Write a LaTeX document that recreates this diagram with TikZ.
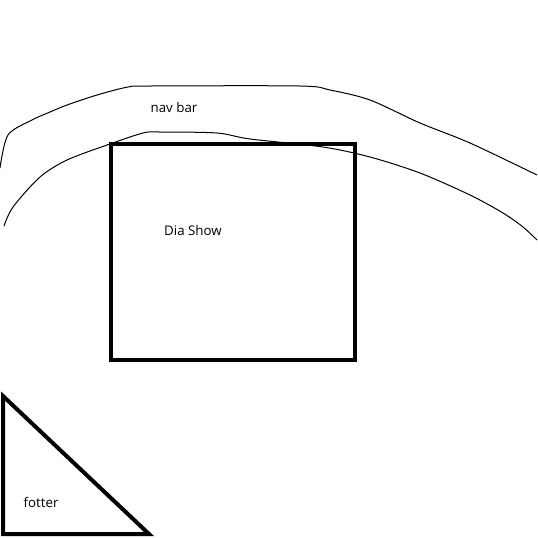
\documentclass[tikz,border=0pt]{standalone}
\usepackage{fontspec}
\setmainfont{Open Sans}
\begin{document}
\begin{tikzpicture}[x=0.75pt, y=-0.75pt, font=\fontsize{10pt}{12pt}\selectfont,
    sketch/.style={draw=black, line width=0.75pt, line join=round},
    bold box/.style={draw=black, line width=3pt}]

        \useasboundingbox (0,0) rectangle (538,537);

        % Nav Bar (two hand drawn curves)
        \draw[sketch] plot[smooth, tension=0.5] coordinates {(0,168) (8,135) (32,120) (50,112) (67,105) (97,95) (128,87) (150,86) (300,86) (330,90) (370,100) (420,123) (470,143) (537,175)};
        \draw[sketch] plot[smooth, tension=0.5] coordinates {(4,226) (13,207) (40,177) (67,160) (107,145) (143,133) (160,132) (217,133) (250,139) (323,147) (370,157) (420,173) (470,195) (503,213) (523,227) (537,240)};
        \node (navbar) at (174,107) {nav bar};

        % Dia Show box
        \draw[bold box] (111,144) rectangle (354.5,360);
        \node (diashow) at (193,230) {Dia Show};

        % Footer triangle
        \draw[bold box, line join=miter] (3,396) -- (3,534) -- (149,534) -- cycle;
        \node (fotter) at (41,502) {fotter};

\end{tikzpicture}
\end{document}
